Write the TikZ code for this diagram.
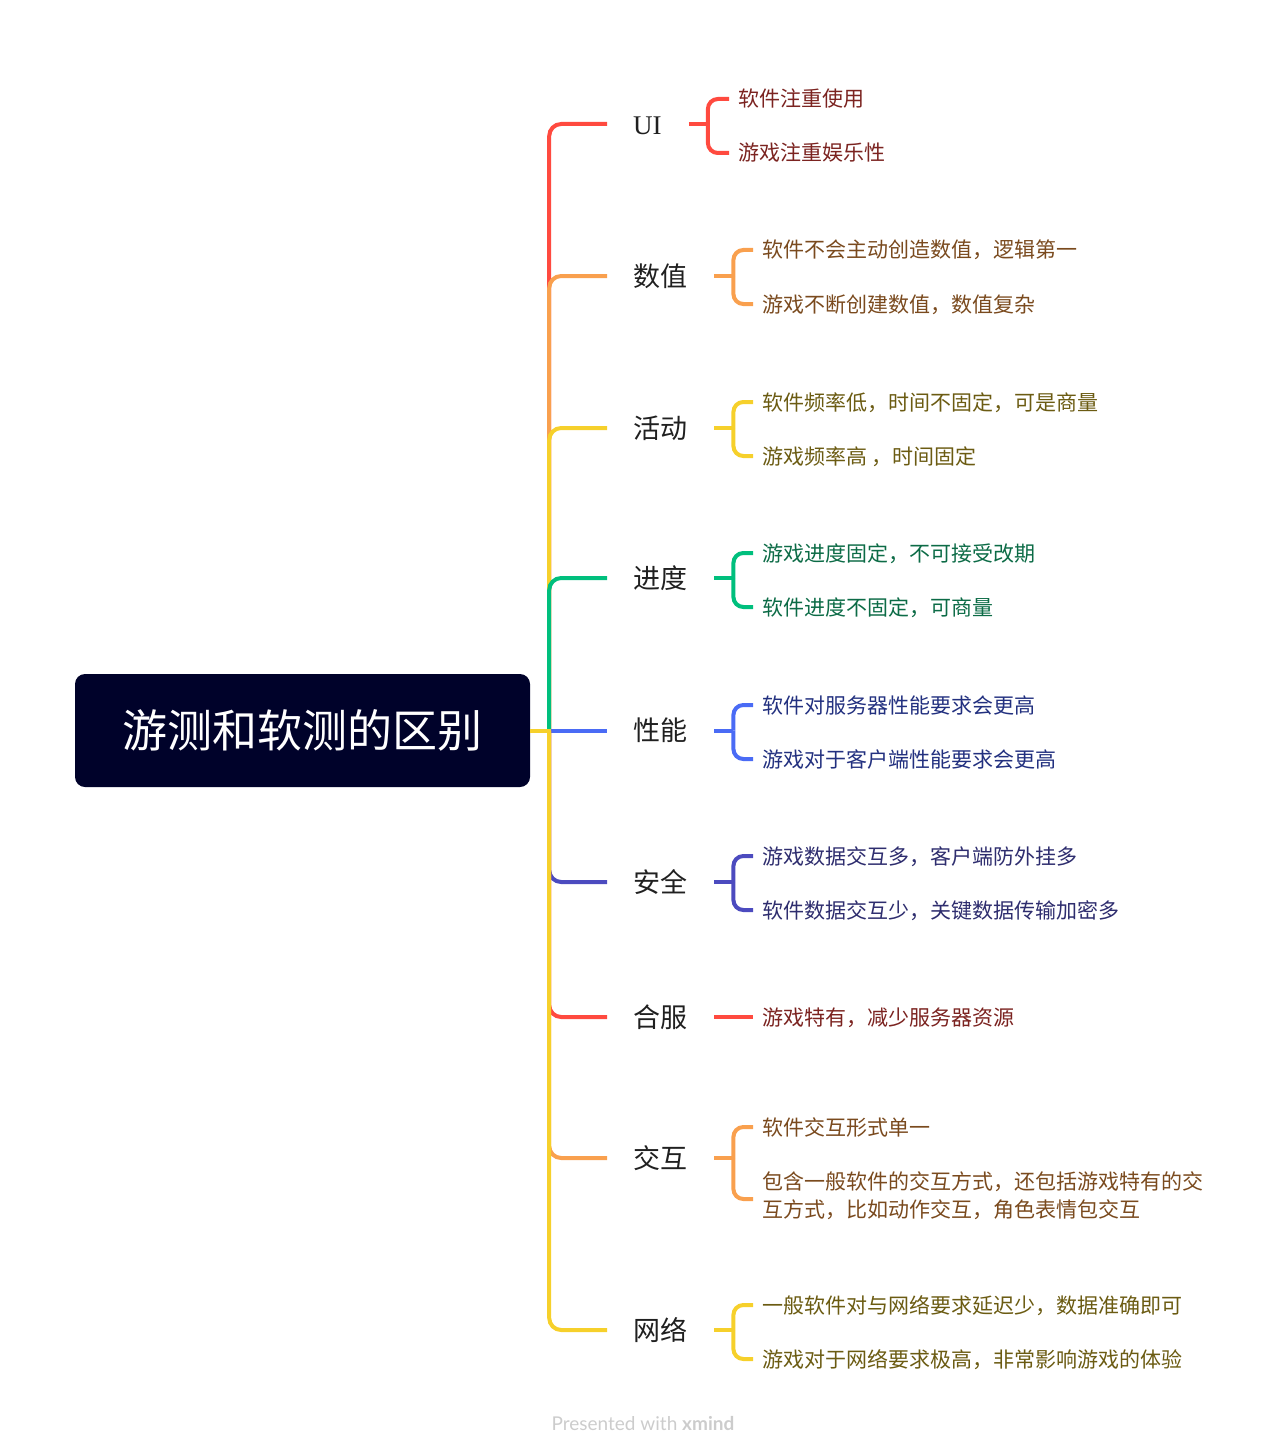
\documentclass[tikz,border=0pt]{standalone}
\usepackage{fontspec}
\newfontfamily\cjk{Noto Sans CJK SC}
\newfontfamily\serifUI{Liberation Serif}
\newfontfamily\footfont{Lato}
\usetikzlibrary{calc}
\definecolor{cRed}{HTML}{FF4A3F}
\definecolor{cOra}{HTML}{F9A04E}
\definecolor{cYel}{HTML}{F6D02B}
\definecolor{cGre}{HTML}{00BF7D}
\definecolor{cBlu}{HTML}{4A6BF5}
\definecolor{cPur}{HTML}{4C4BBF}
\definecolor{tRed}{HTML}{7B2320}
\definecolor{tOra}{HTML}{7A4A1E}
\definecolor{tYel}{HTML}{6B5B12}
\definecolor{tGre}{HTML}{0C6B46}
\definecolor{tBlu}{HTML}{22307F}
\definecolor{tPur}{HTML}{2E2D6E}
\definecolor{rootfill}{HTML}{00022A}
\definecolor{labcol}{HTML}{202020}
\definecolor{footcol}{HTML}{CCCCCC}
\begin{document}
\begin{tikzpicture}[x=1pt,y=-1pt,
  br/.style={line width=4pt, draw=#1},
  brr/.style={line width=4pt, draw=#1, rounded corners=12pt},
  bk/.style={line width=4pt, draw=#1, rounded corners=10pt},
  rootbox/.style={fill=rootfill, rounded corners=10pt, minimum width=455pt, minimum height=113pt, inner sep=0pt, text=white, font=\cjk\fontsize{45}{54}\selectfont},
  lab/.style={anchor=west, inner sep=0pt, text=labcol, font=\cjk\fontsize{27}{32}\selectfont, text height=23.8pt, text depth=3.2pt},
  kid/.style={anchor=west, inner sep=0pt, text=#1, font=\cjk\fontsize{21}{28}\selectfont, text height=18.5pt, text depth=2.5pt},
  kidml/.style={anchor=west, inner sep=0pt, text=#1, font=\cjk\fontsize{21}{28}\selectfont, align=left},
]
\useasboundingbox (0,0) rectangle (1287,1455);

% root
\node[rootbox] (root) at (302.5,730.5) {游测和软测的区别};
\coordinate (sp) at ([xshift=19pt]root.east);

% branch labels
\node[lab, font=\serifUI\fontsize{27}{32}\selectfont] (bUI) at (633,124) {UI};
\node[lab] (bSZ) at (633,276) {数值};
\node[lab] (bHD) at (633,428) {活动};
\node[lab] (bJD) at (633,578) {进度};
\node[lab] (bXN) at (633,730.5) {性能};
\node[lab] (bAQ) at (633,882) {安全};
\node[lab] (bHF) at (633,1017) {合服};
\node[lab] (bJH) at (633,1158) {交互};
\node[lab] (bWL) at (633,1330) {网络};

% children
\node[kid=tRed] (cUI1) at (738,99) {软件注重使用};
\node[kid=tRed] (cUI2) at (738,153) {游戏注重娱乐性};
\node[kid=tOra] (cSZ1) at (762,250) {软件不会主动创造数值，逻辑第一};
\node[kid=tOra] (cSZ2) at (762,304) {游戏不断创建数值，数值复杂};
\node[kid=tYel] (cHD1) at (762,402) {软件频率低，时间不固定，可是商量};
\node[kid=tYel] (cHD2) at (762,456) {游戏频率高 ，时间固定};
\node[kid=tGre] (cJD1) at (762,553) {游戏进度固定，不可接受改期};
\node[kid=tGre] (cJD2) at (762,607) {软件进度不固定，可商量};
\node[kid=tBlu] (cXN1) at (762,705) {软件对服务器性能要求会更高};
\node[kid=tBlu] (cXN2) at (762,759) {游戏对于客户端性能要求会更高};
\node[kid=tPur] (cAQ1) at (762,856) {游戏数据交互多，客户端防外挂多};
\node[kid=tPur] (cAQ2) at (762,910) {软件数据交互少，关键数据传输加密多};
\node[kid=tRed] (cHF1) at (762,1017) {游戏特有，减少服务器资源};
\node[kid=tOra] (cJH1) at (762,1127) {软件交互形式单一};
\node[kidml=tOra] (cJH2) at (762,1196) {包含一般软件的交互方式，还包括游戏特有的交\\互方式，比如动作交互，角色表情包交互};
\node[kid=tYel] (cWL1) at (762,1305) {一般软件对与网络要求延迟少，数据准确即可};
\node[kid=tYel] (cWL2) at (762,1359) {游戏对于网络要求极高，非常影响游戏的体验};

% main connectors (drawn in order, later on top)
\draw[br=cRed] (root.east) -- ([xshift=2pt]sp);
\draw[brr=cRed] (sp) |- ([xshift=-26pt]bUI.west);
\draw[br=cOra] (root.east) -- ([xshift=2pt]sp);
\draw[brr=cOra] (sp) |- ([xshift=-26pt]bSZ.west);
\draw[br=cYel] (root.east) -- ([xshift=2pt]sp);
\draw[brr=cYel] (sp) |- ([xshift=-26pt]bHD.west);
\draw[br=cGre] (root.east) -- ([xshift=2pt]sp);
\draw[brr=cGre] (sp) |- ([xshift=-26pt]bJD.west);
\draw[br=cBlu] (root.east) -- ([xshift=-26pt]bXN.west);
\draw[br=cPur] (root.east) -- ([xshift=2pt]sp);
\draw[brr=cPur] (sp) |- ([xshift=-26pt]bAQ.west);
\draw[br=cRed] (root.east) -- ([xshift=2pt]sp);
\draw[brr=cRed] (sp) |- ([xshift=-26pt]bHF.west);
\draw[br=cOra] (root.east) -- ([xshift=2pt]sp);
\draw[brr=cOra] (sp) |- ([xshift=-26pt]bJH.west);
\draw[br=cYel] (root.east) -- ([xshift=2pt]sp);
\draw[brr=cYel] (sp) |- ([xshift=-26pt]bWL.west);

% brackets
\draw[br=cRed] ([xshift=27pt]bUI.east) -- ++(19,0) coordinate (kUI);
\draw[bk=cRed] (kUI) |- ([xshift=-9pt]cUI1.west);
\draw[bk=cRed] (kUI) |- ([xshift=-9pt]cUI2.west);

\draw[br=cOra] ([xshift=27pt]bSZ.east) -- ++(19,0) coordinate (kSZ);
\draw[bk=cOra] (kSZ) |- ([xshift=-9pt]cSZ1.west);
\draw[bk=cOra] (kSZ) |- ([xshift=-9pt]cSZ2.west);

\draw[br=cYel] ([xshift=27pt]bHD.east) -- ++(19,0) coordinate (kHD);
\draw[bk=cYel] (kHD) |- ([xshift=-9pt]cHD1.west);
\draw[bk=cYel] (kHD) |- ([xshift=-9pt]cHD2.west);

\draw[br=cGre] ([xshift=27pt]bJD.east) -- ++(19,0) coordinate (kJD);
\draw[bk=cGre] (kJD) |- ([xshift=-9pt]cJD1.west);
\draw[bk=cGre] (kJD) |- ([xshift=-9pt]cJD2.west);

\draw[br=cBlu] ([xshift=27pt]bXN.east) -- ++(19,0) coordinate (kXN);
\draw[bk=cBlu] (kXN) |- ([xshift=-9pt]cXN1.west);
\draw[bk=cBlu] (kXN) |- ([xshift=-9pt]cXN2.west);

\draw[br=cPur] ([xshift=27pt]bAQ.east) -- ++(19,0) coordinate (kAQ);
\draw[bk=cPur] (kAQ) |- ([xshift=-9pt]cAQ1.west);
\draw[bk=cPur] (kAQ) |- ([xshift=-9pt]cAQ2.west);

\draw[br=cRed] ([xshift=27pt]bHF.east) -- ([xshift=-9pt]cHF1.west);

\draw[br=cOra] ([xshift=27pt]bJH.east) -- ++(19,0) coordinate (kJH);
\draw[bk=cOra] (kJH) |- ([xshift=-9pt]cJH1.west);
\draw[bk=cOra] (kJH) |- ([xshift=-9pt,yshift=-3pt]cJH2.west);

\draw[br=cYel] ([xshift=27pt]bWL.east) -- ++(19,0) coordinate (kWL);
\draw[bk=cYel] (kWL) |- ([xshift=-9pt]cWL1.west);
\draw[bk=cYel] (kWL) |- ([xshift=-9pt]cWL2.west);

% footer
\node[text=footcol, font=\footfont\fontsize{19}{22}\selectfont, inner sep=0pt] (foot) at (643,1423) {Presented with \textbf{xmind}};
\end{tikzpicture}
\end{document}
